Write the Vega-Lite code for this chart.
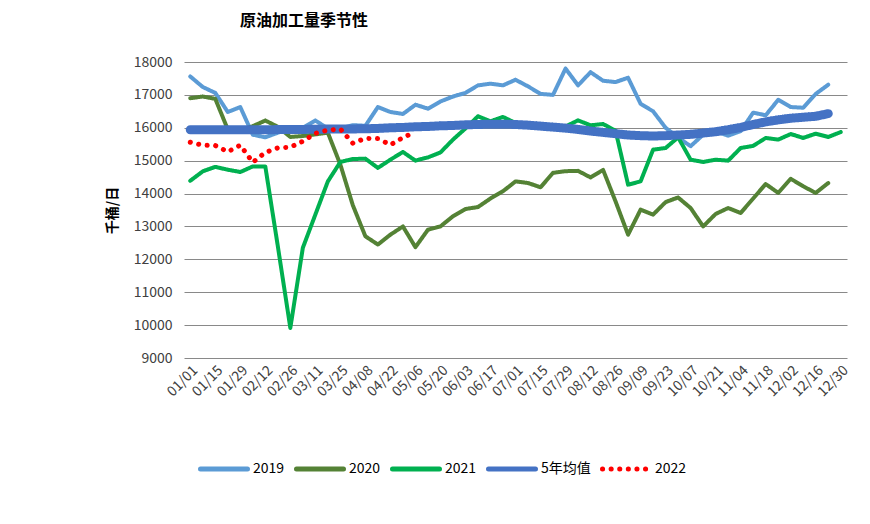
{
  "$schema": "https://vega.github.io/schema/vega-lite/v6.json",
  "width": 663,
  "height": 296,
  "autosize": "none",
  "padding": {"left": 184, "top": 62, "right": 23, "bottom": 166},
  "background": "white",
  "title": {"text": "原油加工量季节性", "anchor": "start", "frame": "group", "dx": 56, "offset": 26, "fontSize": 16, "font": "Noto Sans CJK SC", "fontWeight": "bold", "color": "#000000"},
  "data": {"values": [
    {"d": "01/01", "2019": 17560, "2020": 16900, "2021": 14390, "5年均值": 15940, "2022": 15560},
    {"d": "01/08", "2019": 17240, "2020": 16950, "2021": 14675, "5年均值": 15940, "2022": 15470},
    {"d": "01/15", "2019": 17060, "2020": 16880, "2021": 14810, "5年均值": 15940, "2022": 15460},
    {"d": "01/22", "2019": 16480, "2020": 15950, "2021": 14725, "5年均值": 15940, "2022": 15270},
    {"d": "01/29", "2019": 16630, "2020": 15900, "2021": 14655, "5年均值": 15940, "2022": 15470},
    {"d": "02/05", "2019": 15790, "2020": 16050, "2021": 14825, "5年均值": 15940, "2022": 14950},
    {"d": "02/12", "2019": 15710, "2020": 16220, "2021": 14825, "5年均值": 15940, "2022": 15250},
    {"d": "02/19", "2019": 15850, "2020": 16030, "2021": 12400, "5年均值": 15945, "2022": 15390},
    {"d": "02/26", "2019": 15950, "2020": 15720, "2021": 9915, "5年均值": 15950, "2022": 15410},
    {"d": "03/04", "2019": 16000, "2020": 15750, "2021": 12350, "5年均值": 15950, "2022": 15590},
    {"d": "03/11", "2019": 16220, "2020": 15800, "2021": 13360, "5年均值": 15955, "2022": 15830},
    {"d": "03/18", "2019": 15980, "2020": 15850, "2021": 14370, "5年均值": 15960, "2022": 15930},
    {"d": "03/25", "2019": 15980, "2020": 14880, "2021": 14960, "5年均值": 15960, "2022": 15960},
    {"d": "04/01", "2019": 16080, "2020": 13640, "2021": 15050, "5年均值": 15965, "2022": 15530},
    {"d": "04/08", "2019": 16060, "2020": 12700, "2021": 15060, "5年均值": 15970, "2022": 15680},
    {"d": "04/15", "2019": 16630, "2020": 12450, "2021": 14780, "5年均值": 15980, "2022": 15670},
    {"d": "04/22", "2019": 16480, "2020": 12750, "2021": 15030, "5年均值": 16000, "2022": 15480},
    {"d": "04/29", "2019": 16420, "2020": 13000, "2021": 15265, "5年均值": 16010, "2022": 15700},
    {"d": "05/06", "2019": 16700, "2020": 12370, "2021": 15000, "5年均值": 16030, "2022": 15880},
    {"d": "05/13", "2019": 16580, "2020": 12900, "2021": 15100, "5年均值": 16040},
    {"d": "05/20", "2019": 16800, "2020": 13000, "2021": 15250, "5年均值": 16060},
    {"d": "05/27", "2019": 16950, "2020": 13310, "2021": 15640, "5年均值": 16070},
    {"d": "06/03", "2019": 17060, "2020": 13530, "2021": 15980, "5年均值": 16090},
    {"d": "06/10", "2019": 17290, "2020": 13590, "2021": 16350, "5年均值": 16100},
    {"d": "06/17", "2019": 17340, "2020": 13850, "2021": 16195, "5年均值": 16110},
    {"d": "06/24", "2019": 17290, "2020": 14070, "2021": 16330, "5年均值": 16110},
    {"d": "07/01", "2019": 17460, "2020": 14370, "2021": 16145, "5年均值": 16100},
    {"d": "07/08", "2019": 17260, "2020": 14320, "2021": 16115, "5年均值": 16080},
    {"d": "07/15", "2019": 17030, "2020": 14190, "2021": 16050, "5年均值": 16050},
    {"d": "07/22", "2019": 17000, "2020": 14630, "2021": 16000, "5年均值": 16020},
    {"d": "07/29", "2019": 17800, "2020": 14680, "2021": 16040, "5年均值": 15990},
    {"d": "08/05", "2019": 17290, "2020": 14690, "2021": 16225, "5年均值": 15950},
    {"d": "08/12", "2019": 17690, "2020": 14490, "2021": 16075, "5年均值": 15900},
    {"d": "08/19", "2019": 17430, "2020": 14720, "2021": 16115, "5年均值": 15860},
    {"d": "08/26", "2019": 17390, "2020": 13760, "2021": 15910, "5年均值": 15820},
    {"d": "09/02", "2019": 17520, "2020": 12750, "2021": 14270, "5年均值": 15780},
    {"d": "09/09", "2019": 16730, "2020": 13510, "2021": 14370, "5年均值": 15760},
    {"d": "09/16", "2019": 16500, "2020": 13360, "2021": 15335, "5年均值": 15750},
    {"d": "09/23", "2019": 16000, "2020": 13740, "2021": 15385, "5年均值": 15760},
    {"d": "09/30", "2019": 15700, "2020": 13880, "2021": 15710, "5年均值": 15780},
    {"d": "10/07", "2019": 15440, "2020": 13560, "2021": 15030, "5年均值": 15800},
    {"d": "10/14", "2019": 15790, "2020": 13000, "2021": 14960, "5年均值": 15840},
    {"d": "10/21", "2019": 15890, "2020": 13380, "2021": 15030, "5年均值": 15880},
    {"d": "10/28", "2019": 15760, "2020": 13560, "2021": 15000, "5年均值": 15940},
    {"d": "11/04", "2019": 15900, "2020": 13410, "2021": 15385, "5年均值": 16010},
    {"d": "11/11", "2019": 16460, "2020": 13850, "2021": 15450, "5年均值": 16100},
    {"d": "11/18", "2019": 16380, "2020": 14290, "2021": 15690, "5年均值": 16180},
    {"d": "11/25", "2019": 16850, "2020": 14020, "2021": 15640, "5年均值": 16240},
    {"d": "12/02", "2019": 16630, "2020": 14450, "2021": 15810, "5年均值": 16290},
    {"d": "12/09", "2019": 16610, "2020": 14220, "2021": 15690, "5年均值": 16320},
    {"d": "12/16", "2019": 17030, "2020": 14020, "2021": 15820, "5年均值": 16350},
    {"d": "12/23", "2019": 17310, "2020": 14320, "2021": 15720, "5年均值": 16430},
    {"d": "12/30", "2021": 15870}
  ]},
  "transform": [
    {"fold": ["2019", "2020", "2021", "5年均值", "2022"], "as": ["s", "v"]},
    {"filter": "isValid(datum.v)"}
  ],
  "mark": {"type": "line", "strokeCap": "round", "strokeJoin": "round"},
  "encoding": {
    "x": {
      "field": "d", "type": "ordinal",
      "scale": {"type": "point", "padding": 0.5},
      "axis": {
        "values": ["01/01","01/15","01/29","02/12","02/26","03/11","03/25","04/08","04/22","05/06","05/20","06/03","06/17","07/01","07/15","07/29","08/12","08/26","09/09","09/23","10/07","10/21","11/04","11/18","12/02","12/16","12/30"],
        "title": null, "labelAngle": -45, "labelFontSize": 14, "labelColor": "#404040",
        "labelFont": "Noto Sans CJK SC", "ticks": false, "domain": false, "grid": false, "labelPadding": 5
      }
    },
    "y": {
      "field": "v", "type": "quantitative",
      "scale": {"domain": [9000, 18000], "nice": false},
      "axis": {
        "values": [9000, 10000, 11000, 12000, 13000, 14000, 15000, 16000, 17000, 18000],
        "format": "d", "title": "千桶/日", "titleFont": "Noto Sans CJK SC", "titleFontSize": 14,
        "titleFontWeight": "bold", "titleColor": "#000000", "titlePadding": 14,
        "labelFont": "Noto Sans CJK SC", "labelFontSize": 14, "labelColor": "#404040", "labelPadding": 12,
        "ticks": false, "domain": false, "grid": true, "gridColor": "#898989", "gridWidth": 1
      }
    },
    "color": {
      "field": "s", "type": "nominal",
      "scale": {"domain": ["2019", "2020", "2021", "5年均值", "2022"], "range": ["#5B9BD5", "#548235", "#00B050", "#4472C4", "#FF0000"]},
      "legend": {"title": null, "encode": {"symbols": {"update": {"strokeCap": {"value": "round"}}}}}
    },
    "strokeDash": {
      "field": "s", "type": "nominal",
      "scale": {"domain": ["2019", "2020", "2021", "5年均值", "2022"], "range": [[1, 0], [1, 0], [1, 0], [1, 0], [0.1, 8.5]]},
      "legend": {"title": null, "encode": {"symbols": {"update": {"strokeCap": {"value": "round"}}}}}
    },
    "strokeWidth": {
      "condition": [
        {"test": "datum.s === '5年均值'", "value": 9},
        {"test": "datum.s === '2022'", "value": 5}
      ],
      "value": 4
    }
  },
  "config": {
    "view": {"stroke": null},
    "legend": {
      "orient": "none", "legendX": 14, "legendY": 381, "direction": "horizontal",
      "symbolType": "stroke", "symbolSize": 2209, "symbolStrokeWidth": 5, "labelFont": "Noto Sans CJK SC", "labelFontSize": 14,
      "labelColor": "#000000", "labelOffset": 3, "columnPadding": 1, "padding": 0
    }
  }
}
